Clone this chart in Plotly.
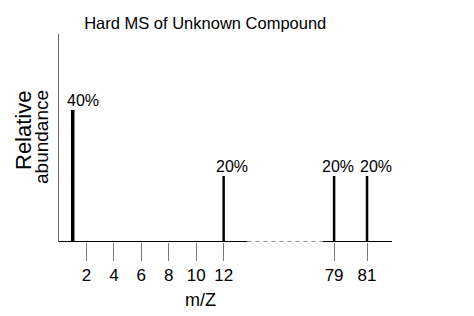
import plotly.graph_objects as go

# Data
mz = [1, 12, 79, 81]
abundance = [40, 20, 20, 20]
peak_labels = ["40%", "20%", "20%", "20%"]
tick_mz = [2, 4, 6, 8, 10, 12, 79, 81]
tick_labels = ["2", "4", "6", "8", "10", "12", "79", "81"]

# Broken axis mapping (display positions)
BREAK_LO, BREAK_HI = 13.73, 19.25
def pos(m):
    if m <= 12:
        return m
    return 20.05 + (m - 79) * 1.2

XMAX = 24.27
FONT = "Liberation Sans, Arial, sans-serif"
label_shift = [10, 8, 4, 9]

fig = go.Figure()

# x-axis line segments (solid, dashed gap, solid)
fig.add_trace(go.Scatter(x=[0, BREAK_LO], y=[0, 0], mode="lines",
                         line=dict(color="black", width=2), hoverinfo="skip"))
fig.add_trace(go.Scatter(x=[BREAK_LO, BREAK_HI], y=[0, 0], mode="lines",
                         line=dict(color="#333", width=1, dash="4px,4px"), hoverinfo="skip"))
fig.add_trace(go.Scatter(x=[BREAK_HI, XMAX], y=[0, 0], mode="lines",
                         line=dict(color="black", width=2), hoverinfo="skip"))

# peaks
for i, (m, a) in enumerate(zip(mz, abundance)):
    fig.add_trace(go.Scatter(x=[pos(m), pos(m)], y=[0, a], mode="lines",
                             line=dict(color="black", width=3.5 if i == 0 else 2.5),
                             hoverinfo="skip"))
    fig.add_annotation(x=pos(m), y=a, text=peak_labels[i], showarrow=False,
                       yanchor="bottom", xanchor="center", xshift=label_shift[i],
                       yshift=-1, font=dict(family=FONT, size=16, color="black"))

# axis titles
fig.add_annotation(xref="paper", yref="paper", x=(200 - 59) / 333, y=-(300 - 242) / 208,
                   text="m/Z", showarrow=False, xanchor="center", yanchor="middle",
                   font=dict(family=FONT, size=18, color="black"))
fig.add_annotation(xref="paper", yref="paper", x=-(59 - 23) / 333, y=(242 - 131) / 208,
                   text="Relative", showarrow=False, textangle=-90,
                   xanchor="center", yanchor="middle",
                   font=dict(family=FONT, size=22, color="black"))
fig.add_annotation(xref="paper", yref="paper", x=-(59 - 41) / 333, y=(242 - 137) / 208,
                   text="abundance", showarrow=False, textangle=-90,
                   xanchor="center", yanchor="middle",
                   font=dict(family=FONT, size=19, color="black"))

fig.update_layout(
    width=474, height=316,
    margin=dict(l=59, r=82, t=34, b=74),
    paper_bgcolor="white", plot_bgcolor="white",
    showlegend=False,
    title=dict(text="Hard MS of Unknown Compound", x=0.433, xanchor="center",
               y=0.927, yanchor="middle",
               font=dict(family=FONT, size=16.5, color="black")),
    xaxis=dict(range=[0, XMAX], showgrid=False, zeroline=False, showline=False,
               tickmode="array", tickvals=[pos(t) for t in tick_mz], ticktext=tick_labels,
               ticks="outside", ticklen=18, tickcolor="#777", tickwidth=1,
               tickfont=dict(family=FONT, size=17, color="black")),
    yaxis=dict(range=[0, 63], showgrid=False, zeroline=False, showline=True,
               linecolor="#666", linewidth=1, showticklabels=False, ticks=""),
)

fig.write_html("out.html")
